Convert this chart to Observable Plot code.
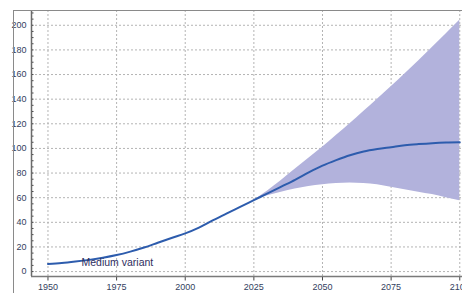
<!DOCTYPE html>
<html>
<head>
<meta charset="utf-8">
<script src="https://cdn.jsdelivr.net/npm/d3@7"></script>
<script src="https://cdn.jsdelivr.net/npm/@observablehq/plot@0.6"></script>
<style>
  html, body { margin: 0; padding: 0; background: #fff; }
  #wrap { position: relative; width: 462px; height: 293px; overflow: hidden; }
  #outer { position: absolute; left: 13px; top: 9.5px; width: 460px; height: 290px;
           border-left: 1.5px solid #8a8a8a; border-top: 1.5px solid #8a8a8a; pointer-events: none; }
  svg { display: block; }
</style>
</head>
<body>
<div id="wrap"><div id="outer"></div></div>
<script>
// Medium variant (median)
const years = [1950,1955,1960,1965,1970,1975,1980,1985,1990,1995,2000,2005,2010,2015,2020,2025,2030,2035,2040,2045,2050,2055,2060,2065,2070,2075,2080,2085,2090,2095,2100];
const median = [6.1,6.9,8.1,9.5,11.2,13.4,16.2,19.5,23.4,27.3,31.0,35.7,41.5,47.0,52.5,58.0,63.5,69.0,74.5,80.5,86.0,90.5,94.5,97.5,99.5,101.0,102.5,103.5,104.3,104.8,105.0];
// 95% prediction interval
const bandYears = [2025,2030,2035,2040,2045,2050,2055,2060,2065,2070,2075,2080,2085,2090,2095,2100];
const upper = [58.0,65.5,74.0,83.0,92.0,101.0,110.5,120.0,130.0,140.0,150.0,160.5,171.0,182.0,193.0,204.0];
const lower = [58.0,61.5,64.5,67.0,69.0,70.5,71.5,72.0,71.5,70.5,68.5,66.5,64.5,62.5,60.0,57.5];

const xTicks = [1950,1975,2000,2025,2050,2075,2100];
const yTicks = [0,20,40,60,80,100,120,140,160,180,200];
const yMinor = d3.range(0, 211, 5);
const xDomain = [1944, 2101];
const yDomain = [-4, 212];
const labelText = "Medium variant";
const labelPos = {x: 1962.2, y: 7.4};

const lineData = years.map((y, i) => ({year: y, value: median[i]}));
const bandData = bandYears.map((y, i) => ({year: y, lo: lower[i], hi: upper[i]}));

const chart = Plot.plot({
  width: 462,
  height: 293,
  marginLeft: 31,
  marginRight: 0,
  marginTop: 10,
  marginBottom: 17,
  style: {fontFamily: "'Liberation Sans', Arial, sans-serif", fontSize: "9px", color: "#33415e", background: "transparent", overflow: "visible"},
  x: {domain: xDomain, axis: null},
  y: {domain: yDomain, axis: null},
  marks: [
    Plot.gridX(xTicks, {stroke: "#b4b4b4", strokeOpacity: 1, strokeDasharray: "2,2"}),
    Plot.gridY(yTicks, {stroke: "#b4b4b4", strokeOpacity: 1, strokeDasharray: "2,2"}),
    Plot.areaY(bandData, {x: "year", y1: "lo", y2: "hi", fill: "#b2b2dc", curve: "monotone-x"}),
    Plot.lineY(lineData, {x: "year", y: "value", stroke: "#2d5cad", strokeWidth: 2, curve: "monotone-x"}),
    Plot.text([labelText], {x: labelPos.x, y: labelPos.y, text: d => d, textAnchor: "start", fill: "#2e2e5e", fontSize: 10.5}),
    Plot.axisY(yTicks, {anchor: "left", label: null, tickSize: 0, tickPadding: 5, fontSize: 9, fill: "#33415e"}),
    Plot.axisY(yMinor, {anchor: "left", label: null, tickSize: 2.5, dx: 2.5, text: null, stroke: "#444"}),
    Plot.axisX(xTicks, {anchor: "bottom", label: null, tickSize: 4.5, tickPadding: 3, fontSize: 9, tickFormat: d => String(d), fill: "#33415e", stroke: "#444"}),
    Plot.ruleX([xDomain[0]], {stroke: "#6a6a6a", strokeWidth: 1.5}),
    Plot.ruleY([yDomain[0]], {stroke: "#7a7a7a", strokeWidth: 1.5})
  ]
});
document.getElementById("wrap").prepend(chart);
</script>
</body>
</html>
